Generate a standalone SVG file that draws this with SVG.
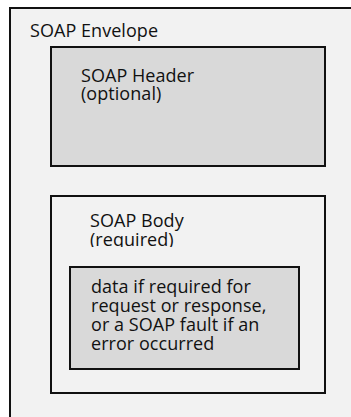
<svg xmlns="http://www.w3.org/2000/svg" width="351" height="417" viewBox="0 0 351 417">
<style>
.box{stroke:#111;stroke-width:2}
.light{fill:#f2f2f2}
.dark{fill:#d9d9d9}
text{font-family:"Open Sans","Liberation Sans",sans-serif;font-size:18px;fill:#111;letter-spacing:0.05px}
</style>
<defs>
<clipPath id="bodyclip"><rect x="52" y="197" width="272" height="50"/></clipPath>
</defs>
<rect width="351" height="417" fill="#fff"/>
<g id="envelope">
<rect class="box light" x="10" y="8" width="350" height="420"/>
<text x="30" y="37">SOAP Envelope</text>
</g>
<g id="header">
<rect class="box dark" x="51" y="47" width="274" height="119"/>
<text x="81" y="82">SOAP Header</text>
<text x="81" y="100">(optional)</text>
</g>
<g id="body">
<rect class="box light" x="51" y="196" width="274" height="197"/>
<g clip-path="url(#bodyclip)">
<text x="90" y="227">SOAP Body</text>
<text x="90" y="246">(required)</text>
</g>
</g>
<g id="data">
<rect class="box dark" x="70" y="267" width="229" height="102"/>
<text x="91" y="293">data if required for</text>
<text x="91" y="312">request or response,</text>
<text x="91" y="331">or a SOAP fault if an</text>
<text x="91" y="350">error occurred</text>
</g>
<g id="connectors"></g>
</svg>
